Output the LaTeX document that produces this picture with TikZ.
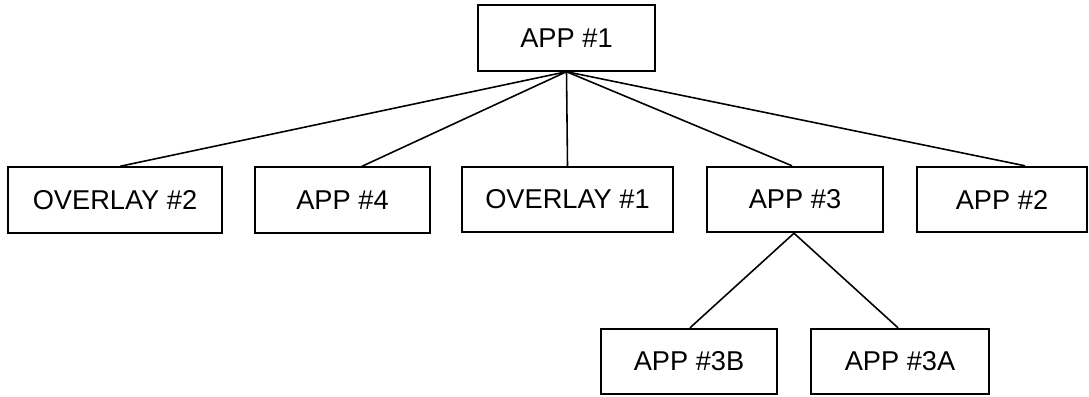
\documentclass[tikz,border=0pt]{standalone}
\usepackage{fontspec}
\setmainfont{Liberation Sans}
\begin{document}
\begin{tikzpicture}[x=0.02cm,y=-0.02cm,
  appbox/.style={draw,line width=1.1pt,minimum height=1.31cm,inner sep=0pt,
    font=\fontsize{15.5}{18}\selectfont},
  link/.style={line width=0.9pt}]
  \useasboundingbox (0,0) rectangle (1089,396);
  % raiz
  \node[appbox,minimum width=3.54cm] (app1) at (566.5,38) {APP \#1};
  % segundo nivel
  \node[appbox,minimum width=4.28cm] (ovl2) at (115,200) {OVERLAY \#2};
  \node[appbox,minimum width=3.50cm] (app4) at (342.5,200) {APP \#4};
  \node[appbox,minimum width=4.22cm] (ovl1) at (567.5,199.5) {OVERLAY \#1};
  \node[appbox,minimum width=3.52cm] (app3) at (795,199.5) {APP \#3};
  \node[appbox,minimum width=3.40cm] (app2) at (1002,199.5) {APP \#2};
  % tercer nivel
  \node[appbox,minimum width=3.52cm] (app3b) at (689,361.5) {APP \#3B};
  \node[appbox,minimum width=3.56cm] (app3a) at (900,361.5) {APP \#3A};
  % conexiones
  \draw[link] (app1.south) -- ([xshift=0.10cm]ovl2.north);
  \draw[link] (app1.south) -- ([xshift=0.39cm]app4.north);
  \draw[link] (app1.south) -- (ovl1.north);
  \draw[link] (app1.south) -- ([xshift=-0.06cm]app3.north);
  \draw[link] (app1.south) -- ([xshift=0.46cm]app2.north);
  \draw[link] ([xshift=-0.02cm]app3.south) -- ([xshift=0.02cm]app3b.north);
  \draw[link] ([xshift=-0.02cm]app3.south) -- ([xshift=-0.04cm]app3a.north);
\end{tikzpicture}
\end{document}
